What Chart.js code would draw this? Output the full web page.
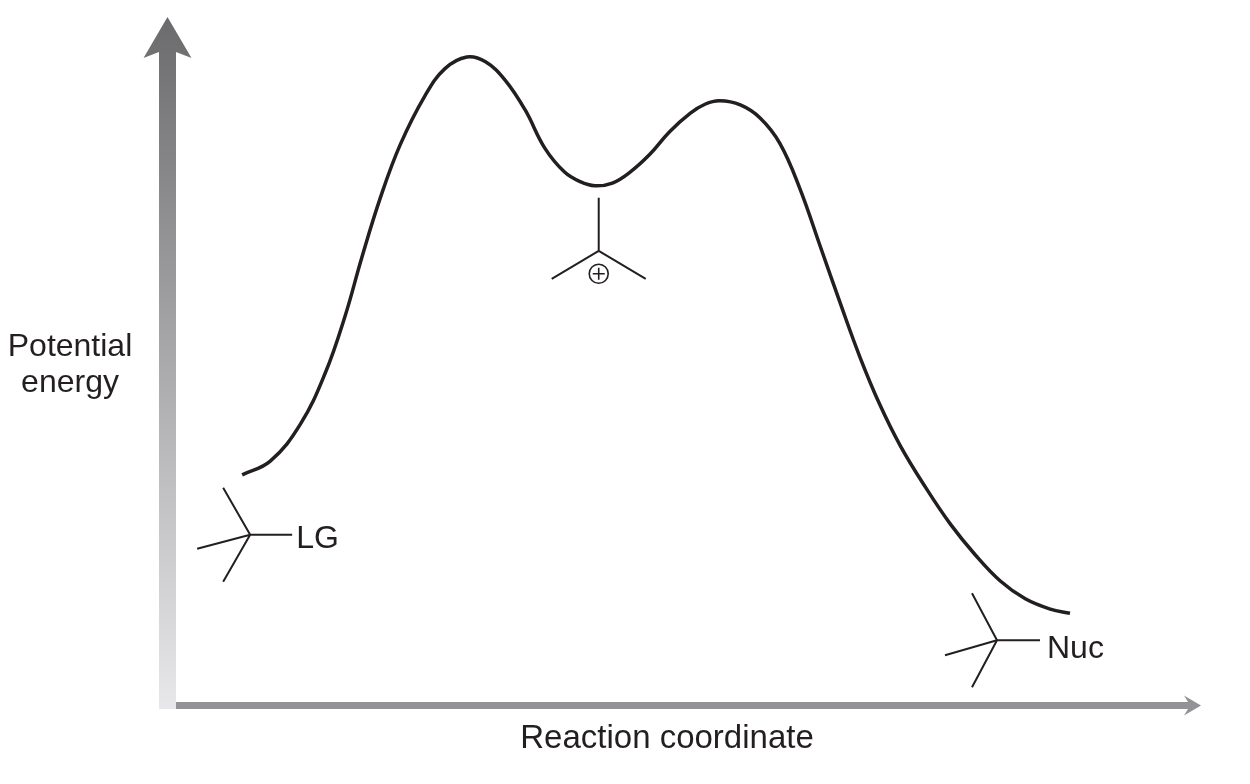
<!DOCTYPE html>
<html>
<head>
<meta charset="utf-8">
<title>SN1 energy diagram</title>
<script src="https://cdn.jsdelivr.net/npm/chart.js@4/dist/chart.umd.min.js"></script>
<style>
  html,body{margin:0;padding:0;background:#fff;}
  canvas{display:block;}
</style>
</head>
<body>
<canvas id="energy" width="1250" height="784"></canvas>
<script>
// reaction coordinate (0..100) and potential energy (0..100)
const coord = [7.9, 10.6, 13.5, 15.9, 17.8, 19.4, 21.2, 23.1, 25.5, 27.4, 29.5,
  31.3, 33.2, 35.1, 37.0, 38.9, 40.4, 41.8,
  43.5, 45.2, 47.1, 49.0, 51.0, 52.4, 53.8,
  55.8, 57.7, 59.6, 61.5, 63.5, 65.4, 67.3, 69.2, 71.2, 73.6, 76.0, 78.4, 80.8, 83.2, 85.6, 87.5];
const energy = [33.6, 35.6, 41.0, 48.5, 56.8, 65.3, 74.1, 81.8, 89.0, 92.9, 94.6,
  93.9, 91.2, 86.9, 81.3, 77.8, 76.4, 75.8,
  76.2, 77.8, 80.4, 83.7, 86.4, 87.7, 88.2,
  87.6, 85.7, 82.0, 75.5, 66.9, 58.7, 50.8, 43.9, 37.8, 31.8, 26.4, 21.9, 18.1, 15.5, 14.0, 13.4];

const axisTitles = { x: 'Reaction coordinate', y: ['Potential', 'energy'] };
const startLabel = 'LG';
const endLabel = 'Nuc';

const FAMILY = '"Liberation Sans", Arial, Helvetica, sans-serif';
const INK = '#231f20';

// little skeletal drawing: bonds from a centre point
function drawBonds(ctx, cx, cy, ends){
  ctx.beginPath();
  ends.forEach(e => { ctx.moveTo(cx, cy); ctx.lineTo(cx + e[0], cy + e[1]); });
  ctx.stroke();
}

const axesPlugin = {
  id: 'arrowAxes',
  beforeDatasetsDraw(chart){
    const {ctx, chartArea:a} = chart;
    ctx.save();
    // y axis: gradient shaft + head
    const g = ctx.createLinearGradient(0, a.top - 3, 0, a.bottom + 4);
    g.addColorStop(0, '#6b6b6d');
    g.addColorStop(1, '#e8e8ea');
    ctx.fillStyle = g;
    const l = a.left - 1, r = a.left + 16, mid = (l + r) / 2;
    ctx.beginPath();
    ctx.moveTo(mid, a.top - 3);
    ctx.lineTo(mid + 24, a.top + 38);
    ctx.lineTo(r, a.top + 32);
    ctx.lineTo(r, a.bottom + 4);
    ctx.lineTo(l, a.bottom + 4);
    ctx.lineTo(l, a.top + 32);
    ctx.lineTo(mid - 24, a.top + 38);
    ctx.closePath();
    ctx.fill();
    // x axis
    ctx.fillStyle = '#939396';
    const t = a.bottom - 3, b = a.bottom + 4, ym = (t + b) / 2;
    ctx.beginPath();
    ctx.moveTo(a.left + 16, t);
    ctx.lineTo(a.right - 12, t);
    ctx.lineTo(a.right - 16, ym - 10);
    ctx.lineTo(a.right + 1, ym);
    ctx.lineTo(a.right - 16, ym + 10);
    ctx.lineTo(a.right - 12, b);
    ctx.lineTo(a.left + 16, b);
    ctx.closePath();
    ctx.fill();
    ctx.restore();
  },
  afterDatasetsDraw(chart){
    const {ctx, chartArea:a, scales} = chart;
    const px = v => scales.x.getPixelForValue(v);
    const py = v => scales.y.getPixelForValue(v);
    ctx.save();
    ctx.strokeStyle = INK;
    ctx.fillStyle = INK;
    ctx.lineWidth = 2;
    ctx.font = '32px ' + FAMILY;
    ctx.textBaseline = 'alphabetic';

    // reactant (start of curve)
    let cx = px(coord[0]) + 8, cy = py(energy[0]) + 60;
    drawBonds(ctx, cx, cy, [[-27,-47],[-53,14],[-27,47],[42,0]]);
    ctx.textAlign = 'left';
    ctx.fillText(startLabel, cx + 46, cy + 13);

    // product (end of curve)
    const n = coord.length - 1;
    cx = px(coord[n]) - 73; cy = py(energy[n]) + 27;
    drawBonds(ctx, cx, cy, [[-25,-47],[-52,15],[-25,47],[43,0]]);
    ctx.fillText(endLabel, cx + 50, cy + 18);

    // carbocation under the intermediate (first local minimum)
    let mi = 1;
    while(mi < n && !(energy[mi] < energy[mi-1] && energy[mi] <= energy[mi+1])) mi++;
    cx = px(coord[mi]) + 4; cy = py(energy[mi]) + 65;
    drawBonds(ctx, cx, cy, [[0,-53],[-47,28],[47,28]]);
    ctx.lineWidth = 1.6;
    ctx.beginPath();
    ctx.arc(cx, cy + 23, 9.5, 0, Math.PI * 2);
    ctx.moveTo(cx - 6, cy + 23); ctx.lineTo(cx + 6, cy + 23);
    ctx.moveTo(cx, cy + 17); ctx.lineTo(cx, cy + 29);
    ctx.stroke();

    // axis titles
    ctx.textAlign = 'center';
    ctx.font = '33px ' + FAMILY;
    ctx.fillText(axisTitles.x, (a.left + a.right) / 2 - 13, a.bottom + 43);
    ctx.font = '32px ' + FAMILY;
    ctx.fillText(axisTitles.y[0], 70, 356);
    ctx.fillText(axisTitles.y[1], 70, 392);
    ctx.restore();
  }
};

new Chart(document.getElementById('energy'), {
  type: 'line',
  data: {
    datasets: [{
      data: coord.map((x, i) => ({x, y: energy[i]})),
      borderColor: INK,
      borderWidth: 3.5,
      pointRadius: 0,
      fill: false,
      tension: 0.4
    }]
  },
  options: {
    responsive: false,
    devicePixelRatio: 1,
    animation: false,
    layout: { padding: { left: 160, right: 50, top: 20, bottom: 79 } },
    plugins: { legend: { display: false }, tooltip: { enabled: false } },
    scales: {
      x: { type: 'linear', min: 0, max: 100, display: false },
      y: { min: 0, max: 100, display: false }
    }
  },
  plugins: [axesPlugin]
});
</script>
</body>
</html>
